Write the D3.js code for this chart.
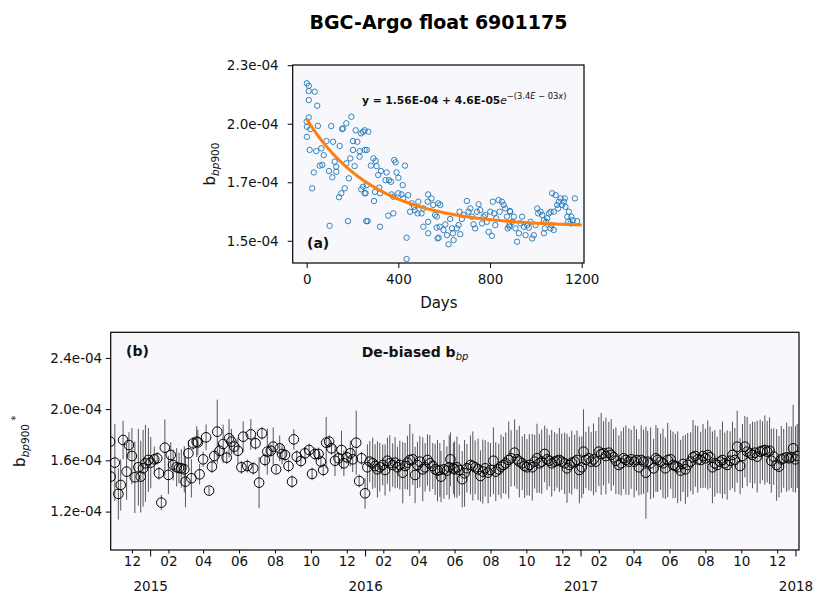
<!DOCTYPE html>
<html><head><meta charset="utf-8">
<script src="https://cdn.jsdelivr.net/npm/d3@7"></script>
<style>
body{margin:0;background:#fff;}
svg{display:block;font-family:"DejaVu Sans",sans-serif;}
</style>
</head><body>
<svg id="c" width="815" height="594"></svg>
<script>
// ---------------- DATA ----------------
const chartTitle = "BGC-Argo float 6901175";

// Panel (a): days since deployment vs b_bp900 (units of 1e-4 m^-1)
const aDays = [
1,9,9,35,9,46,9,0,1,16,49,107,1,155,173,195,158,214,246,253,
238,86,115,64,42,13,74,144,202,221,202,231,253,231,57,68,31,97,122,129,
129,112,173,190,209,24,184,166,151,141,246,238,253,100,180,260,
269,262,291,280,305,301,382,388,429,324,349,312,359,344,368,400,392,419,262,257,
298,317,320,294,378,371,400,414,421,443,458,451,472,487,509,528,530,545,552,560,
501,530,509,530,567,571,436,378,356,320,266,436,574,469,484,
583,568,580,576,605,597,626,634,612,619,641,638,655,663,670,677,667,685,699,706,
714,721,728,735,743,750,757,772,779,786,794,801,808,812,818,827,837,842,852,859,
866,874,877,885,888,823,765,
887,885,897,904,911,918,926,933,940,948,955,962,969,977,984,991,999,1006,1010,1020,
1028,1035,1039,1045,1049,1057,1064,1068,1071,1078,1086,1093,1097,1100,1108,1115,1122,1126,1129,1137,
1141,1144,1151,1155,1161,1170,1180,1078,1035,1064];
const aVals = [
2.173,2.162,2.140,2.137,2.101,2.077,2.027,2.009,1.987,1.977,1.991,1.990,1.944,1.977,2.002,2.030,1.980,1.972,1.966,1.972,
1.959,1.926,1.923,1.895,1.883,1.888,1.866,1.905,1.926,1.923,1.888,1.883,1.888,1.859,1.821,1.824,1.792,1.798,1.838,1.816,
1.795,1.771,1.831,1.852,1.819,1.724,1.767,1.724,1.703,1.686,1.731,1.720,1.703,1.564,1.584,1.584,
1.966,1.888,1.852,1.821,1.819,1.841,1.845,1.835,1.821,1.798,1.792,1.781,1.759,1.759,1.752,1.769,1.792,1.738,1.738,1.703,
1.709,1.727,1.703,1.670,1.688,1.698,1.703,1.698,1.681,1.695,1.660,1.624,1.631,1.667,1.638,1.667,1.698,1.681,1.653,1.610,
1.617,1.581,1.560,1.532,1.556,1.510,1.513,1.617,1.607,1.560,1.584,1.422,1.660,1.645,1.617,
1.653,1.603,1.560,1.513,1.570,1.546,1.593,1.553,1.524,1.485,1.503,1.532,1.553,1.567,1.528,1.593,1.624,1.610,1.670,1.624,
1.638,1.603,1.570,1.553,1.624,1.656,1.631,1.603,1.610,1.581,1.538,1.624,1.521,1.667,1.617,1.596,1.674,1.624,1.667,1.653,
1.638,1.603,1.553,1.567,1.624,1.567,1.574,
1.627,1.560,1.581,1.603,1.553,1.496,1.532,1.574,1.603,1.560,1.524,1.567,1.556,1.581,1.510,1.524,1.567,1.638,1.617,1.624,
1.610,1.588,1.553,1.581,1.596,1.617,1.624,1.567,1.703,1.624,1.695,1.653,1.638,1.667,1.681,1.653,1.667,1.681,1.645,1.603,
1.581,1.624,1.574,1.603,1.588,1.681,1.584,1.546,1.532,1.553];
// fitted model shown in the chart: y = c0 + c1 * exp(-k * x)   (c0, c1 in 1e-4)
const fitCoefs = [1.56, 0.46, 3.4e-3];
const fitRange = [0, 1200];
const aXDomain = [-61, 1210];
const aYDomain = [1.405, 2.251];
const aXTicks = [0, 400, 800, 1200];
const aYTicks = [1.5, 1.75, 2.0, 2.25];
const aYTickLabels = ["1.5e-04", "1.7e-04", "2.0e-04", "2.3e-04"];

// Panel (b): de-biased b_bp900 (units of 1e-4), days since 2015-01-01, error half-width
const bBaseDate = "2015-01-01";
const bDays = [
-68,-67,-60,-54,-50,-46,-40,-36,-31,-26,-20,-16,-12,-8,-3,1,7,12,15,19,
25,31,35,39,45,49,53,58,60,65,70,73,79,81,84,90,95,100,105,109,
114,118,124,130,134,138,143,149,155,158,165,171,175,179,185,190,195,199,205,209,
214,220,224,229,235,241,244,249,256,263,270,275,280,286,290,294,299,304,308,314,
320,325,329,334,340,344,350,355,359,365,
369,373,378,382,386,390,395,399,403,407,412,416,420,424,429,433,437,441,446,450,
454,458,463,467,471,475,480,484,488,492,494,499,504,508,510,515,
517,521,525,530,534,538,544,548,552,557,561,565,569,574,578,583,587,592,596,600,
604,609,613,619,623,627,632,636,640,644,649,653,657,661,665,670,674,678,682,687,
691,695,699,704,708,712,716,721,725,729,733,736,740,745,749,753,757,762,766,770,
774,779,783,787,791,796,800,804,808,
813,817,822,826,830,834,838,842,845,850,855,859,862,867,871,875,879,884,888,892,
896,901,905,909,913,918,922,926,930,935,939,943,947,951,955,959,963,968,972,976,
980,985,989,993,997,1002,1006,1010,1014,1019,1023,1027,1031,1036,1040,1044,1048,1052,1055,1059,
1064,1068,1072,1076,1081,1085,1089,1092,1096,1099];
const bVals = [
1.746,1.473,1.582,1.338,1.408,1.759,1.512,1.720,1.634,1.468,1.546,1.473,1.538,1.577,1.603,1.582,1.608,1.616,1.499,1.270,
1.699,1.486,1.642,1.564,1.546,1.540,1.538,1.530,1.434,1.655,1.460,1.733,1.746,1.740,1.491,1.608,1.780,1.364,1.551,1.634,
1.824,1.675,1.728,1.621,1.772,1.746,1.707,1.675,1.546,1.785,1.556,1.803,1.538,1.733,1.426,1.811,1.603,1.668,1.675,1.707,
1.530,1.694,1.650,1.642,1.556,1.434,1.764,1.629,1.595,1.655,1.681,1.494,1.650,1.650,1.590,1.525,1.738,1.746,1.694,1.597,
1.616,1.681,1.577,1.624,1.655,1.608,1.738,1.439,1.616,1.343,
1.546,1.590,1.577,1.556,1.530,1.546,1.564,1.525,1.597,1.577,1.564,1.582,1.546,1.564,1.504,1.556,1.582,1.603,1.608,1.486,
1.564,1.590,1.530,1.546,1.603,1.577,1.556,1.530,1.520,1.525,1.473,1.530,1.520,1.546,1.608,1.538,
1.530,1.546,1.525,1.453,1.499,1.538,1.564,1.556,1.546,1.530,1.478,1.512,1.538,1.504,1.525,1.597,1.512,1.530,1.551,1.564,
1.577,1.603,1.616,1.660,1.608,1.590,1.577,1.556,1.546,1.564,1.546,1.590,1.616,1.577,1.590,1.650,1.608,1.597,1.577,1.590,
1.597,1.603,1.590,1.577,1.538,1.564,1.582,1.590,1.603,1.525,1.546,1.668,1.603,1.616,1.590,1.608,1.590,1.668,1.650,1.655,
1.634,1.660,1.642,1.624,1.597,1.564,1.577,1.616,1.603,
1.590,1.608,1.590,1.603,1.546,1.603,1.590,1.504,1.590,1.577,1.538,1.616,1.603,1.590,1.577,1.538,1.603,1.608,1.564,1.556,
1.546,1.520,1.572,1.530,1.564,1.590,1.624,1.634,1.608,1.603,1.634,1.616,1.642,1.624,1.546,1.577,1.564,1.590,1.603,1.577,
1.564,1.597,1.642,1.603,1.707,1.556,1.634,1.707,1.668,1.655,1.642,1.660,1.629,1.668,1.675,1.681,1.668,1.675,1.597,1.629,
1.564,1.551,1.608,1.616,1.624,1.616,1.624,1.694,1.608,1.634];
const bErr = [
0.05,0.05,0.30,0.20,0.20,0.15,0.22,0.10,0.22,0.28,0.30,0.28,0.30,0.30,0.25,0.20,0.10,0.05,0.05,0.06,
0.22,0.15,0.10,0.12,0.15,0.12,0.15,0.18,0.20,0.10,0.15,0.05,0.12,0.10,0.08,0.06,0.10,0.03,0.05,0.05,
0.25,0.05,0.15,0.05,0.15,0.10,0.05,0.10,0.05,0.12,0.05,0.12,0.05,0.05,0.20,0.05,0.05,0.18,0.05,0.15,
0.03,0.10,0.08,0.05,0.05,0.05,0.08,0.05,0.05,0.05,0.05,0.05,0.05,0.05,0.05,0.05,0.20,0.05,0.05,0.12,
0.05,0.15,0.10,0.05,0.10,0.10,0.25,0.05,0.05,0.12,
0.18,0.16,0.20,0.17,0.22,0.19,0.16,0.20,0.18,0.22,0.17,0.20,0.16,0.19,0.24,0.18,0.21,0.28,0.20,0.22,
0.18,0.20,0.25,0.19,0.20,0.22,0.18,0.20,0.24,0.21,0.20,0.23,0.19,0.25,0.21,0.20,
0.22,0.24,0.20,0.22,0.26,0.19,0.23,0.27,0.21,0.24,0.20,0.25,0.22,0.24,0.21,0.26,0.23,0.20,0.25,0.22,
0.24,0.30,0.22,0.26,0.23,0.28,0.21,0.25,0.22,0.24,0.26,0.21,0.27,0.23,0.25,0.22,0.24,0.20,0.26,0.23,
0.21,0.25,0.22,0.24,0.27,0.22,0.25,0.21,0.23,0.26,0.24,0.33,0.22,0.25,0.23,0.28,0.24,0.27,0.32,0.25,
0.30,0.24,0.28,0.22,0.26,0.23,0.25,0.24,0.27,
0.26,0.23,0.28,0.24,0.22,0.27,0.25,0.36,0.24,0.28,0.23,0.26,0.25,0.22,0.27,0.24,0.29,0.23,0.26,0.25,
0.28,0.24,0.22,0.27,0.25,0.23,0.29,0.24,0.26,0.22,0.25,0.23,0.27,0.24,0.28,0.26,0.22,0.25,0.30,0.24,
0.27,0.23,0.26,0.25,0.28,0.22,0.25,0.24,0.27,0.23,0.26,0.24,0.28,0.25,0.23,0.27,0.24,0.26,0.25,0.22,
0.28,0.24,0.26,0.23,0.27,0.25,0.24,0.34,0.26,0.25];
const bXDomain = ["2014-10-26", "2018-01-07"];
const bYDomain = [0.9, 2.6];
const bYTicks = [1.2, 1.6, 2.0, 2.4];
const bYTickLabels = ["1.2e-04", "1.6e-04", "2.0e-04", "2.4e-04"];
const bMonthTicks = ["2014-12-01","2015-02-01","2015-04-01","2015-06-01","2015-08-01","2015-10-01","2015-12-01",
  "2016-02-01","2016-04-01","2016-06-01","2016-08-01","2016-10-01","2016-12-01",
  "2017-02-01","2017-04-01","2017-06-01","2017-08-01","2017-10-01","2017-12-01"];
const bYearTicks = ["2015-01-01","2016-01-01","2017-01-01","2018-01-01"];

// ---------------- DRAW ----------------
const svg = d3.select("#c");
const FONT = '"DejaVu Sans", sans-serif';
const BG = "#f7f7fc";
const TICKFS = 13.5;
const parse = d3.utcParse("%Y-%m-%d");

svg.append("rect").attr("width", 815).attr("height", 594).attr("fill", "#fff");

// title
svg.append("text").attr("x", 438.5).attr("y", 29).attr("text-anchor", "middle")
  .attr("font-size", 19).attr("font-weight", "bold").attr("font-family", FONT).attr("fill", "#000")
  .text(chartTitle);

function styleAxis(g) {
  g.select(".domain").remove();
  g.attr("font-size", TICKFS).attr("font-family", FONT);
  g.selectAll(".tick line").attr("stroke", "#000").attr("stroke-width", 1);
  g.selectAll(".tick text").attr("fill", "#111");
}

// ---- Panel (a)
const A = {l: 292.7, r: 584, t: 65, b: 263};
const ax = d3.scaleLinear().domain(aXDomain).range([A.l, A.r]);
const ay = d3.scaleLinear().domain(aYDomain).range([A.b, A.t]);

svg.append("defs").html(
  `<clipPath id="clipA"><rect x="${A.l}" y="${A.t}" width="${A.r-A.l}" height="${A.b-A.t}"/></clipPath>`);
svg.append("rect").attr("x", A.l).attr("y", A.t).attr("width", A.r - A.l).attr("height", A.b - A.t).attr("fill", BG);

const gA = svg.append("g").attr("clip-path", "url(#clipA)");
gA.selectAll("circle").data(aDays.map((d, i) => [d, aVals[i]])).join("circle")
  .attr("cx", d => ax(d[0])).attr("cy", d => ay(d[1])).attr("r", 2.7)
  .attr("fill", "none").attr("stroke", "#1f77b4").attr("stroke-width", 0.9);

const fitPts = d3.range(fitRange[0], fitRange[1] + 1, 4).map(x => [x, fitCoefs[0] + fitCoefs[1] * Math.exp(-fitCoefs[2] * x)]);
gA.append("path").datum(fitPts)
  .attr("d", d3.line().x(d => ax(d[0])).y(d => ay(d[1])))
  .attr("fill", "none").attr("stroke", "#ff7f0e").attr("stroke-width", 3);

svg.append("g").attr("transform", `translate(0,${A.b})`)
  .call(d3.axisBottom(ax).tickValues(aXTicks).tickSize(5).tickPadding(6).tickFormat(d3.format("d")))
  .call(styleAxis);
svg.append("g").attr("transform", `translate(${A.l},0)`)
  .call(d3.axisLeft(ay).tickValues(aYTicks).tickSize(5).tickPadding(9).tickFormat((d, i) => aYTickLabels[i]))
  .call(styleAxis);
svg.append("rect").attr("x", A.l).attr("y", A.t).attr("width", A.r - A.l).attr("height", A.b - A.t)
  .attr("fill", "none").attr("stroke", "#000").attr("stroke-width", 1.2);

svg.append("text").attr("x", (A.l + A.r) / 2 + 0.5).attr("y", 308).attr("text-anchor", "middle")
  .attr("font-size", 15).attr("font-family", FONT).attr("fill", "#111").text("Days");

const ylA = svg.append("text").attr("transform", `translate(215,${(A.t + A.b) / 2}) rotate(-90)`)
  .attr("text-anchor", "middle").attr("font-size", 15).attr("font-family", FONT).attr("fill", "#111");
ylA.append("tspan").text("b");
ylA.append("tspan").attr("font-size", 10.5).attr("font-style", "italic").attr("dy", 3.5).text("bp");
ylA.append("tspan").attr("font-size", 10.5).text("900");

svg.append("text").attr("x", 307).attr("y", 248).attr("font-size", 14).attr("font-weight", "bold")
  .attr("font-family", FONT).attr("fill", "#111").text("(a)");

const eq = svg.append("text").attr("x", 362).attr("y", 103.5).attr("font-size", 10.7)
  .attr("font-weight", "bold").attr("font-family", FONT).attr("fill", "#111");
eq.append("tspan").text("y = 1.56E-04 + 4.6E-05");
eq.append("tspan").attr("font-style", "italic").attr("font-weight", "normal").text("e");
const sup = eq.append("tspan").attr("font-weight", "normal").attr("font-size", 8.3).attr("dy", -5);
sup.append("tspan").text("\u2212(3.4");
sup.append("tspan").attr("font-style", "italic").text("E");
sup.append("tspan").text(" \u2212 03");
sup.append("tspan").attr("font-style", "italic").text("x");
sup.append("tspan").text(")");

// ---- Panel (b)
const B = {l: 110.7, r: 799, t: 332.3, b: 550};
const base = parse(bBaseDate).getTime();
const bx = d3.scaleUtc().domain(bXDomain.map(parse)).range([B.l, B.r]);
const by = d3.scaleLinear().domain(bYDomain).range([B.b, B.t]);

svg.select("defs").append("clipPath").attr("id", "clipB").append("rect")
  .attr("x", B.l).attr("y", B.t).attr("width", B.r - B.l).attr("height", B.b - B.t);
svg.append("rect").attr("x", B.l).attr("y", B.t).attr("width", B.r - B.l).attr("height", B.b - B.t).attr("fill", BG);

const bData = bDays.map((d, i) => ({t: new Date(base + d * 864e5), v: bVals[i], e: bErr[i]}));
const gB = svg.append("g").attr("clip-path", "url(#clipB)");
gB.selectAll("line.err").data(bData).join("line").attr("class", "err")
  .attr("x1", d => bx(d.t)).attr("x2", d => bx(d.t))
  .attr("y1", d => by(d.v - d.e)).attr("y2", d => by(d.v + d.e))
  .attr("stroke", "#3c3c3c").attr("stroke-opacity", 0.85).attr("stroke-width", 1);
gB.selectAll("circle").data(bData).join("circle")
  .attr("cx", d => bx(d.t)).attr("cy", d => by(d.v)).attr("r", 4.8)
  .attr("fill", "none").attr("stroke", "#000").attr("stroke-width", 1);

const fm = d3.utcFormat("%m"), fy = d3.utcFormat("%Y");
svg.append("g").attr("transform", `translate(0,${B.b})`)
  .call(d3.axisBottom(bx).tickValues(bMonthTicks.map(parse)).tickSize(3.5).tickPadding(2.5).tickFormat(fm))
  .call(styleAxis);
svg.append("g").attr("transform", `translate(0,${B.b})`)
  .call(d3.axisBottom(bx).tickValues(bYearTicks.map(parse)).tickSize(6.5).tickPadding(24.5).tickFormat(fy))
  .call(styleAxis);
svg.append("g").attr("transform", `translate(${B.l},0)`)
  .call(d3.axisLeft(by).tickValues(bYTicks).tickSize(5).tickPadding(3.5).tickFormat((d, i) => bYTickLabels[i]))
  .call(styleAxis);
svg.append("rect").attr("x", B.l).attr("y", B.t).attr("width", B.r - B.l).attr("height", B.b - B.t)
  .attr("fill", "none").attr("stroke", "#000").attr("stroke-width", 1.2);

const ylB = svg.append("text").attr("transform", `translate(25,${(B.t + B.b) / 2}) rotate(-90)`)
  .attr("text-anchor", "middle").attr("font-size", 15).attr("font-family", FONT).attr("fill", "#111");
ylB.append("tspan").text("b");
ylB.append("tspan").attr("font-size", 10.5).attr("font-style", "italic").attr("dy", 3.5).text("bp");
ylB.append("tspan").attr("font-size", 10.5).text("900");
ylB.append("tspan").attr("font-size", 10.5).attr("dy", -10).text(" *");

svg.append("text").attr("x", 126).attr("y", 356).attr("font-size", 14).attr("font-weight", "bold")
  .attr("font-family", FONT).attr("fill", "#111").text("(b)");
const db = svg.append("text").attr("x", 361.7).attr("y", 356.5).attr("font-size", 14).attr("font-weight", "bold")
  .attr("font-family", FONT).attr("fill", "#111");
db.append("tspan").text("De-biased b");
db.append("tspan").attr("font-size", 10).attr("font-style", "italic").attr("font-weight", "normal").attr("dy", 3).text("bp");
</script>
</body></html>
